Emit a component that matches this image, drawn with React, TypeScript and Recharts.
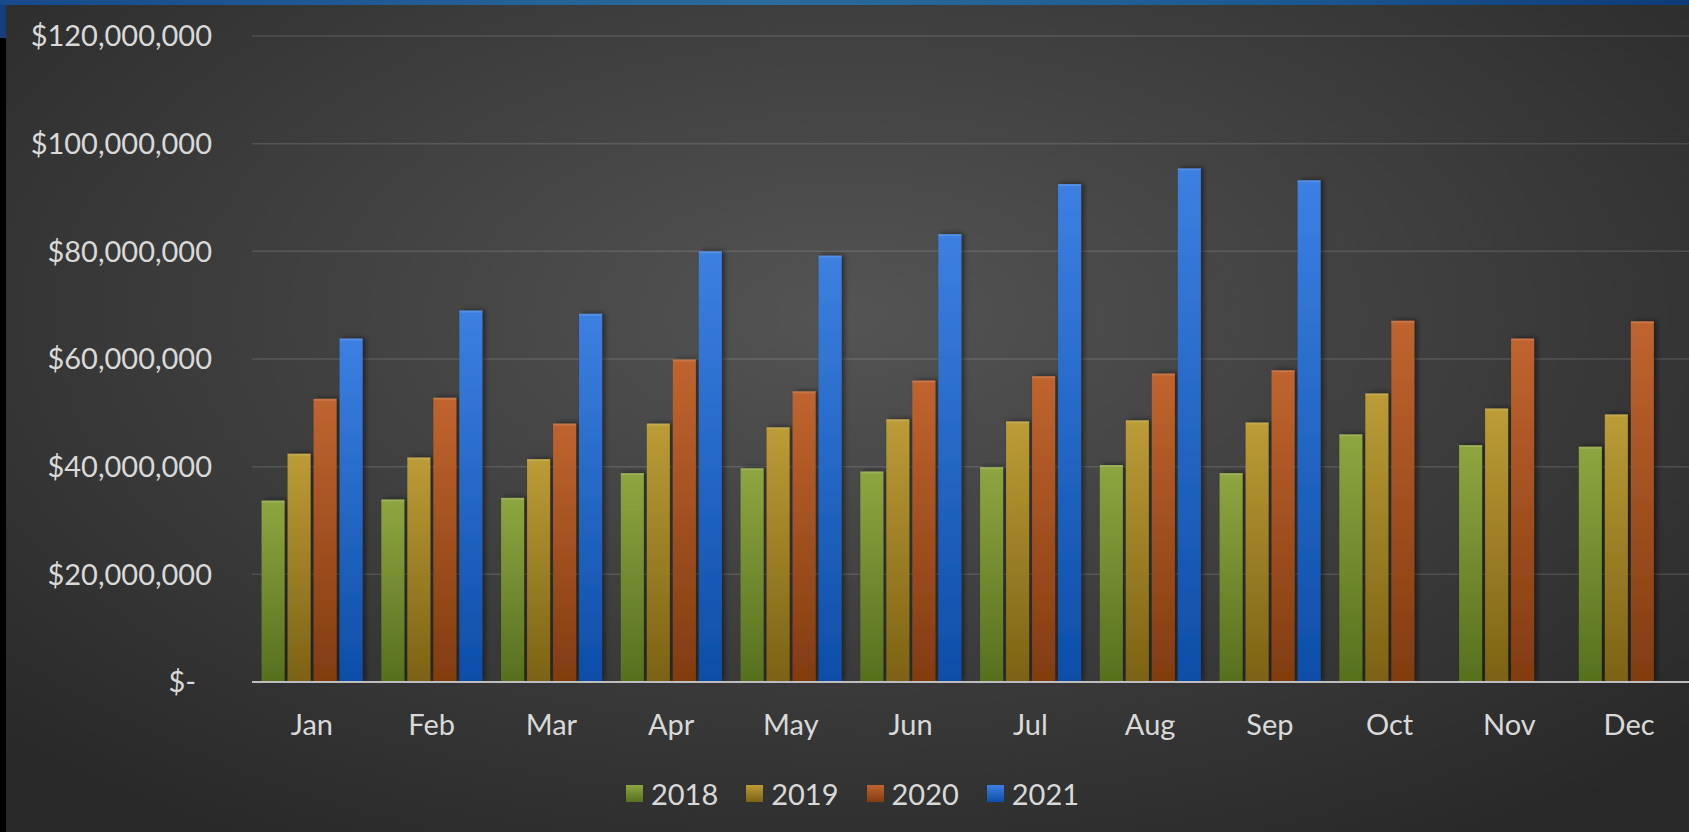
import { Bar, BarChart, CartesianGrid, Legend, XAxis, YAxis } from "recharts";

const months = ["Jan", "Feb", "Mar", "Apr", "May", "Jun", "Jul", "Aug", "Sep", "Oct", "Nov", "Dec"];

// monthly sales, $ millions
const sales2018 = [33.7, 33.9, 34.2, 38.8, 39.7, 39.1, 39.9, 40.3, 38.8, 46.0, 44.0, 43.7];
const sales2019 = [42.4, 41.7, 41.4, 48.0, 47.3, 48.8, 48.4, 48.6, 48.2, 53.6, 50.8, 49.7];
const sales2020 = [52.6, 52.8, 48.0, 59.9, 54.0, 56.0, 56.8, 57.3, 57.9, 67.1, 63.8, 67.0];
const sales2021 = [63.8, 69.0, 68.4, 80.0, 79.2, 83.2, 92.5, 95.4, 93.2, null, null, null];

const yTicks = [0, 20e6, 40e6, 60e6, 80e6, 100e6, 120e6];

const series = [
  { key: "y2018", name: "2018", top: "#8ea640", bottom: "#56701e" },
  { key: "y2019", name: "2019", top: "#bc9c36", bottom: "#7c6214" },
  { key: "y2020", name: "2020", top: "#c0642f", bottom: "#823c10" },
  { key: "y2021", name: "2021", top: "#3c80e2", bottom: "#0d4ea8" }
];

const data = months.map((month, i) => ({
  month,
  y2018: sales2018[i] * 1e6,
  y2019: sales2019[i] * 1e6,
  y2020: sales2020[i] * 1e6,
  y2021: sales2021[i] == null ? null : (sales2021[i] as number) * 1e6
}));

const FONT = "Lato, 'Open Sans', sans-serif";
const TEXT = "#d9d9d9";

function formatMoney(v: number) {
  return v === 0 ? "$-" : "$" + v.toLocaleString("en-US");
}

function YTick(props: any) {
  const { x, y, payload } = props;
  const shift = payload.value === 0 ? 16 : 0;
  return (
    <text x={x - shift} y={y} dy="0.36em" textAnchor="end" fill={TEXT} fontSize={29} fontFamily={FONT}>
      {formatMoney(payload.value)}
    </text>
  );
}

function BarShape(props: any) {
  const { x, y, width, height, fill } = props;
  if (!height || height <= 0) return null;
  return (
    <g>
      <rect x={x} y={y} width={width} height={height} fill={fill} filter="url(#barShadow)" />
      <rect x={x} y={y} width={width} height={2} fill="rgba(255,255,255,0.12)" />
    </g>
  );
}

function LegendContent() {
  return (
    <div
      style={{
        display: "flex",
        justifyContent: "center",
        alignItems: "center",
        gap: 28,
        height: 40,
        paddingLeft: 16,
        fontFamily: FONT,
        fontSize: 29,
        color: TEXT
      }}
    >
      {series.map((s) => (
        <div key={s.key} style={{ display: "flex", alignItems: "center", gap: 8 }}>
          <span
            style={{
              width: 17,
              height: 17,
              display: "inline-block",
              background: `linear-gradient(${s.top}, ${s.bottom})`
            }}
          />
          <span>{s.name}</span>
        </div>
      ))}
    </div>
  );
}

export default function App() {
  return (
    <div
      style={{
        position: "absolute",
        left: 0,
        top: 0,
        width: 1689,
        height: 832,
        overflow: "hidden",
        background: "radial-gradient(ellipse 70% 75% at 50% 38%, #545454 0%, #3c3c3c 55%, #282828 100%)"
      }}
    >
      <div
        style={{
          position: "absolute",
          left: 0,
          top: 0,
          width: 1689,
          height: 5,
          background: "linear-gradient(90deg, #174a8c 0%, #2a6c9c 45%, #1c5a92 75%, #0e3a78 100%)"
        }}
      />
      <div style={{ position: "absolute", left: 0, top: 5, width: 6, height: 33, background: "#153f7c" }} />
      <div style={{ position: "absolute", left: 0, top: 38, width: 6, height: 794, background: "#000" }} />
      <BarChart
        width={1689}
        height={832}
        data={data}
        margin={{ top: 36, right: 0, left: 0, bottom: 19 }}
        barCategoryGap="8%"
        barGap={3}
        style={{ position: "absolute", left: 0, top: 0 }}
      >
        <defs>
          {series.map((s) => (
            <linearGradient key={s.key} id={`grad-${s.key}`} x1="0" y1="0" x2="0" y2="1">
              <stop offset="0%" stopColor={s.top} />
              <stop offset="100%" stopColor={s.bottom} />
            </linearGradient>
          ))}
          <filter id="barShadow" x="-40%" y="-5%" width="180%" height="110%">
            <feDropShadow dx="3" dy="-1" stdDeviation="2.5" floodColor="#000" floodOpacity="0.45" />
          </filter>
        </defs>
        <CartesianGrid stroke="rgba(255,255,255,0.13)" strokeWidth={1.5} vertical={false} />
        <XAxis
          dataKey="month"
          height={91}
          axisLine={{ stroke: "#bdbdbd", strokeWidth: 2 }}
          tickLine={false}
          tickSize={0}
          tickMargin={32}
          tick={{ fill: TEXT, fontSize: 29, fontFamily: FONT }}
        />
        <YAxis
          width={252}
          domain={[0, 120e6]}
          ticks={yTicks}
          axisLine={false}
          tickLine={false}
          tickSize={0}
          tickMargin={40}
          tick={<YTick />}
        />
        <Legend verticalAlign="bottom" content={<LegendContent />} />
        {series.map((s) => (
          <Bar
            key={s.key}
            dataKey={s.key}
            name={s.name}
            fill={`url(#grad-${s.key})`}
            shape={<BarShape />}
            isAnimationActive={false}
          />
        ))}
      </BarChart>
    </div>
  );
}
